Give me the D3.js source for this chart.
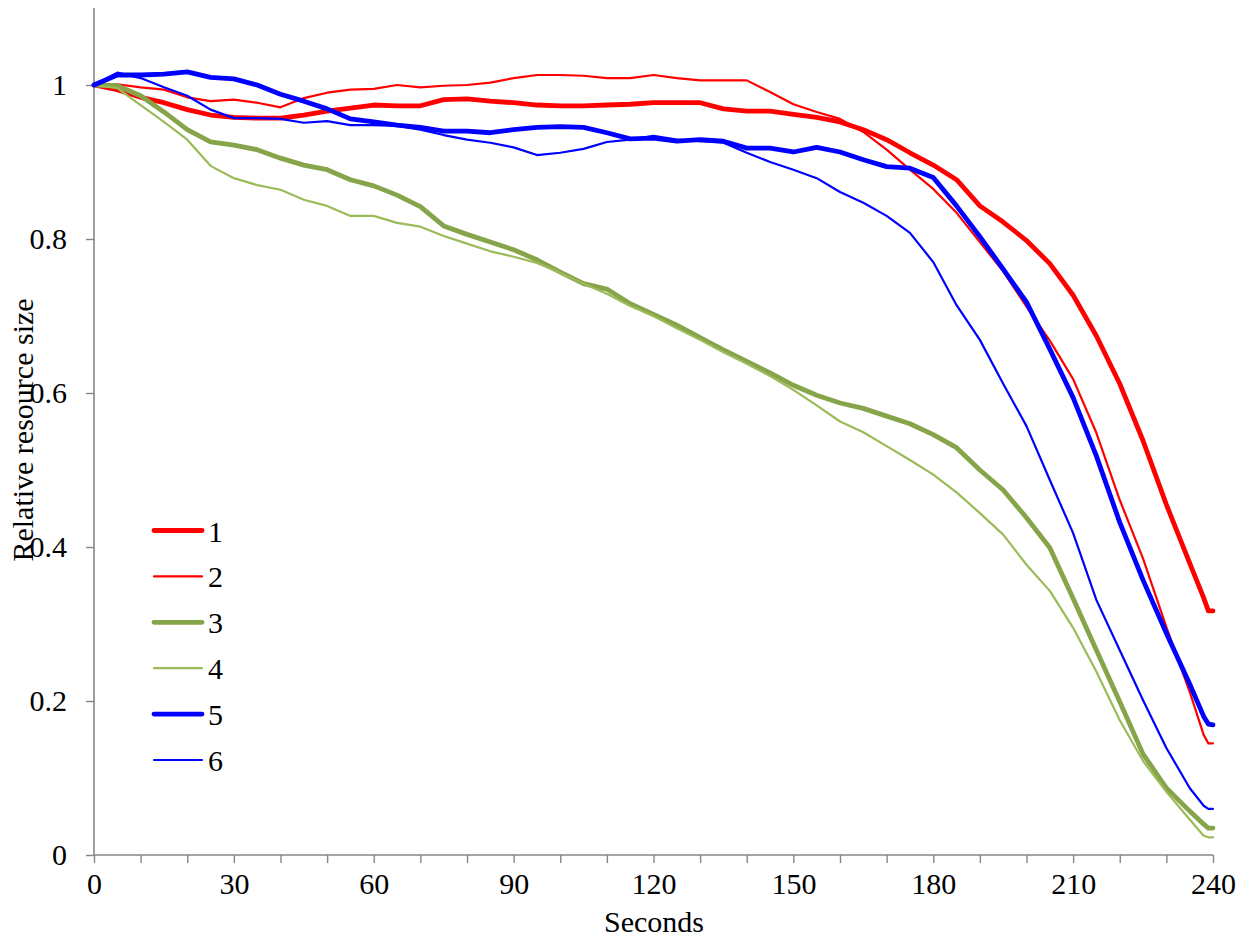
<!DOCTYPE html>
<html>
<head>
<meta charset="utf-8">
<script src="https://cdn.jsdelivr.net/npm/d3@7"></script>
<style>
  html, body { margin: 0; padding: 0; background: #ffffff; }
  svg { display: block; }
  text { font-family: 'Liberation Serif', 'Times New Roman', serif; fill: #000; }
</style>
</head>
<body>
<svg id="chart" width="1245" height="938"></svg>
<script>
// ---- Data ----
const seconds = [0,5,10,15,20,25,30,35,40,45,50,55,60,65,70,75,80,85,90,95,100,105,110,115,120,125,130,135,140,145,150,155,160,165,170,175,180,185,190,195,200,205,210,215,220,225,230,235,238,239,240];

const series1 = [1.000,0.994,0.984,0.977,0.968,0.961,0.958,0.957,0.957,0.961,0.966,0.970,0.974,0.973,0.973,0.981,0.982,0.979,0.977,0.974,0.973,0.973,0.974,0.975,0.977,0.977,0.977,0.969,0.966,0.966,0.962,0.958,0.952,0.942,0.929,0.912,0.896,0.877,0.843,0.822,0.798,0.768,0.727,0.674,0.612,0.538,0.455,0.379,0.334,0.317,0.317];
const series2 = [1.000,1.001,0.997,0.994,0.984,0.979,0.981,0.977,0.971,0.983,0.990,0.994,0.995,1.000,0.997,0.999,1.000,1.003,1.009,1.013,1.013,1.012,1.009,1.009,1.013,1.009,1.006,1.006,1.006,0.991,0.975,0.965,0.956,0.939,0.916,0.890,0.865,0.834,0.796,0.758,0.712,0.668,0.618,0.548,0.461,0.385,0.296,0.212,0.156,0.145,0.145];
const series3 = [1.000,0.999,0.986,0.965,0.942,0.926,0.922,0.916,0.905,0.896,0.890,0.877,0.869,0.857,0.842,0.817,0.806,0.796,0.786,0.773,0.757,0.742,0.735,0.716,0.702,0.688,0.672,0.656,0.641,0.626,0.610,0.597,0.587,0.580,0.570,0.560,0.546,0.529,0.500,0.474,0.438,0.399,0.333,0.266,0.199,0.131,0.087,0.057,0.040,0.035,0.035];
const series4 = [1.000,0.996,0.974,0.952,0.929,0.895,0.879,0.870,0.864,0.851,0.843,0.830,0.830,0.821,0.816,0.804,0.794,0.784,0.777,0.769,0.756,0.742,0.729,0.713,0.700,0.684,0.669,0.653,0.638,0.622,0.604,0.584,0.563,0.549,0.531,0.513,0.494,0.471,0.444,0.416,0.377,0.343,0.295,0.238,0.175,0.122,0.082,0.046,0.025,0.023,0.023];
const series5 = [1.000,1.013,1.013,1.014,1.017,1.010,1.008,1.000,0.988,0.979,0.969,0.956,0.952,0.948,0.945,0.940,0.940,0.938,0.942,0.945,0.946,0.945,0.938,0.930,0.931,0.927,0.929,0.927,0.918,0.918,0.913,0.919,0.913,0.903,0.894,0.892,0.880,0.843,0.803,0.761,0.718,0.657,0.594,0.518,0.432,0.357,0.288,0.222,0.180,0.170,0.169];
const series6 = [1.000,1.016,1.009,0.997,0.986,0.968,0.957,0.957,0.956,0.951,0.953,0.948,0.948,0.947,0.942,0.935,0.929,0.925,0.919,0.909,0.912,0.917,0.926,0.929,0.934,0.929,0.927,0.925,0.912,0.900,0.890,0.879,0.861,0.847,0.830,0.808,0.770,0.714,0.669,0.612,0.557,0.487,0.418,0.331,0.266,0.201,0.139,0.087,0.064,0.060,0.060];

const seriesNames = ["1","2","3","4","5","6"];
const xTickValues = [0,10,20,30,40,50,60,70,80,90,100,110,120,130,140,150,160,170,180,190,200,210,220,230,240];
const xTickLabels = ["0","30","60","90","120","150","180","210","240"];
const yTickValues = [0,0.2,0.4,0.6,0.8,1];
const xTitle = "Seconds";
const yTitle = "Relative resource size";

// ---- Styles ----
const styles = [
  {color:"#ff0000", width:4.8},
  {color:"#ff0000", width:2.2},
  {color:"#86a44a", width:4.8},
  {color:"#9bbb59", width:2.2},
  {color:"#0000ff", width:4.8},
  {color:"#0000ff", width:2.2}
];
const allSeries = [series1, series2, series3, series4, series5, series6];

// ---- Layout ----
const svg = d3.select("#chart");
const x = d3.scaleLinear().domain([0, 240]).range([94, 1213]);
const y = d3.scaleLinear().domain([0, 1.1]).range([855, 8]);
const axisColor = "#868686";

// X axis
const xAxis = d3.axisBottom(x)
  .tickValues(xTickValues)
  .tickSize(8)
  .tickFormat(d => xTickLabels.includes(String(d)) ? String(d) : "");
const gx = svg.append("g").attr("transform", "translate(0,855)").call(xAxis);
gx.select(".domain").attr("stroke", axisColor).attr("stroke-width", 1.6).attr("d", `M${x(0)},0H${x(240)}`);
gx.selectAll(".tick line").attr("stroke", axisColor).attr("stroke-width", 1.4);
gx.selectAll(".tick text")
  .attr("y", 39).attr("dy", 0)
  .style("font-size", "30px")
  .style("font-family", "'Liberation Serif','Times New Roman',serif")
  .attr("fill", "#000");

// Y axis
const yAxis = d3.axisLeft(y)
  .tickValues(yTickValues)
  .tickSize(8)
  .tickFormat(d => d3.format("~g")(d));
const gy = svg.append("g").attr("transform", "translate(94,0)").call(yAxis);
gy.select(".domain").attr("stroke", axisColor).attr("stroke-width", 1.6).attr("d", `M0,${y(0)}V${y(1.1)}`);
gy.selectAll(".tick line").attr("stroke", axisColor).attr("stroke-width", 1.4);
gy.selectAll(".tick text")
  .attr("x", -27).attr("dy", "0.33em")
  .style("font-size", "30px")
  .style("font-family", "'Liberation Serif','Times New Roman',serif")
  .attr("fill", "#000");

// Lines
const line = d3.line()
  .x((d, i) => x(seconds[i]))
  .y(d => y(d));

svg.append("g").selectAll("path.series")
  .data(allSeries)
  .join("path")
  .attr("class", "series")
  .attr("d", d => line(d))
  .attr("fill", "none")
  .attr("stroke", (d, i) => styles[i].color)
  .attr("stroke-width", (d, i) => styles[i].width)
  .attr("stroke-linejoin", "round")
  .attr("stroke-linecap", "round");

// Titles
svg.append("text")
  .attr("x", 654).attr("y", 932)
  .attr("text-anchor", "middle")
  .style("font-size", "30px")
  .text(xTitle);

svg.append("text")
  .attr("transform", "translate(33,430) rotate(-90)")
  .attr("text-anchor", "middle")
  .style("font-size", "30px")
  .text(yTitle);

// Legend
const legendY = d3.scaleLinear().domain([0, 5]).range([530.5, 760]);
const leg = svg.append("g").selectAll("g.leg")
  .data(seriesNames)
  .join("g")
  .attr("class", "leg")
  .attr("transform", (d, i) => `translate(0,${legendY(i)})`);
leg.append("line")
  .attr("x1", 154).attr("x2", 202)
  .attr("y1", 0).attr("y2", 0)
  .attr("stroke", (d, i) => styles[i].color)
  .attr("stroke-width", (d, i) => styles[i].width)
  .attr("stroke-linecap", "round");
leg.append("text")
  .attr("x", 208).attr("y", 11)
  .style("font-size", "30px")
  .text(d => d);
</script>
</body>
</html>
